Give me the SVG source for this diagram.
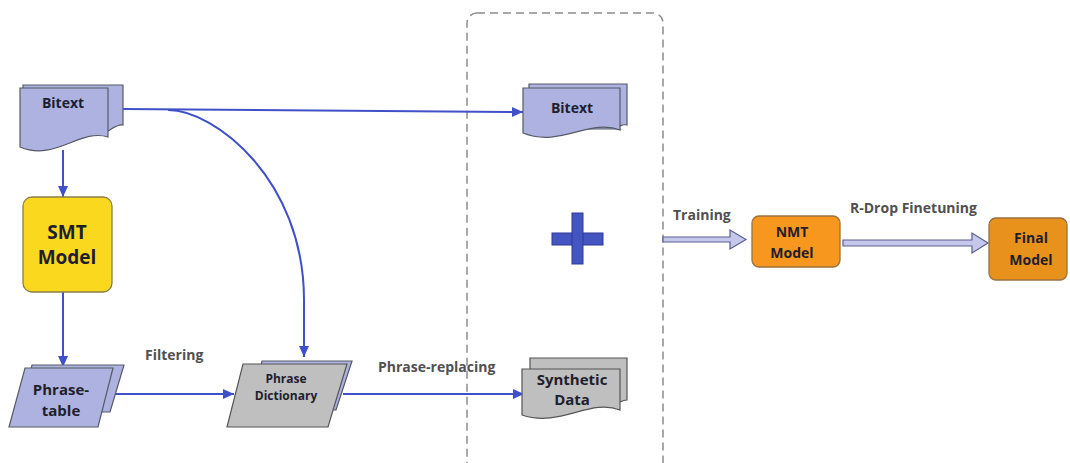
<svg xmlns="http://www.w3.org/2000/svg" width="1070" height="463" viewBox="0 0 1070 463">
<style>
.doc{fill:#AEB2E0;stroke:#555a66;stroke-width:1.2}
.gdoc{fill:#BFBFBF;stroke:#555;stroke-width:1.2}
.t{font-family:"Open Sans","Liberation Sans",sans-serif;font-weight:700;text-anchor:middle;fill:#1e1e2e}
.lbl{font-family:"Open Sans","Liberation Sans",sans-serif;font-weight:700;font-size:14px;fill:#505050}
.con{fill:none;stroke:#4050C8;stroke-width:2}
.blk{fill:#C5C8EA;stroke:#5a5f8f;stroke-width:1.2}
.plus{fill:#4454C0;stroke:#2d3a9a;stroke-width:1}
</style>
<defs>
<marker id="ah" markerUnits="userSpaceOnUse" markerWidth="12" markerHeight="12" viewBox="0 0 12 12" refX="11" refY="6" orient="auto">
<path d="M0,1 L11,6 L0,11 Z" fill="#4050C8"/>
</marker>
</defs>
<rect width="1070" height="463" fill="#fff"/>

<g id="container">
<rect x="467" y="13" width="196" height="460" rx="10" fill="none" stroke="#8c8c8c" stroke-width="1.5" stroke-dasharray="8,5"/>
</g>

<g id="connectors">
<path class="con" d="M123,109 L523,112" marker-end="url(#ah)"/>
<path class="con" d="M168,110 C215,110 304,180 304,300 L304,357" marker-end="url(#ah)"/>
<path class="con" d="M63,150 L63,197" marker-end="url(#ah)"/>
<path class="con" d="M63,292 L63,367" marker-end="url(#ah)"/>
<path class="con" d="M113,394 L234,394" marker-end="url(#ah)"/>
<path class="con" d="M343,394 L524,394" marker-end="url(#ah)"/>
<polygon class="blk" points="663,237 730,237 730,230 746,239.5 730,249 730,242 663,242"/>
<polygon class="blk" points="843,240 972,240 972,233 988,243 972,253 972,246 843,246"/>
</g>

<g id="labels">
<text class="lbl" x="145" y="360">Filtering</text>
<text class="lbl" x="378" y="372">Phrase-replacing</text>
<text class="lbl" x="673" y="220">Training</text>
<text class="lbl" x="850" y="213">R-Drop Finetuning</text>
</g>

<g id="bitext-src">
<path class="doc" d="M23,85 H123 V125 C118,124 113,128 108,131 H23 Z"/>
<path class="doc" d="M20,88 H108 V137 C80,128 55,162 20,147 Z"/>
<text class="t" x="63" y="108" font-size="14">Bitext</text>
</g>

<g id="smt">
<rect x="23" y="197" width="89" height="95" rx="9" fill="#FAD81E" stroke="#8B7D4A" stroke-width="1.3"/>
<text class="t" x="67" y="239" font-size="19">SMT</text>
<text class="t" x="67" y="264" font-size="19">Model</text>
</g>

<g id="phrase-table">
<path class="doc" d="M32,365 H124 L110,412 H20 Z"/>
<path class="doc" d="M25,368 H113 L98,427 H9 Z"/>
<text class="t" x="61" y="395" font-size="15">Phrase-</text>
<text class="t" x="61" y="416" font-size="15">table</text>
</g>

<g id="phrase-dict">
<path class="doc" d="M262,361 H352 L336,410 H250 Z"/>
<path class="gdoc" d="M243,364 H347 L328,427 H227 Z"/>
<text class="t" x="286" y="383" font-size="12">Phrase</text>
<text class="t" x="286" y="400" font-size="12">Dictionary</text>
</g>

<g id="bitext-dst">
<path class="doc" d="M529,84 H627 V125 C622,124 617,127 620,129 H529 Z"/>
<path class="doc" d="M523,88 H620 V130 C590,118 560,148 523,133 Z"/>
<text class="t" x="572" y="113" font-size="14">Bitext</text>
</g>

<g id="plus">
<rect class="plus" x="552" y="233" width="51" height="12"/>
<rect class="plus" x="572" y="213" width="11" height="51"/>
</g>

<g id="synthetic">
<path class="gdoc" d="M530,358 H627 V400 C624,400 622,401 620,402 H530 Z"/>
<path class="gdoc" d="M522,369 H620 V410 C590,398 560,428 522,415 Z"/>
<text class="t" x="572" y="385" font-size="15">Synthetic</text>
<text class="t" x="572" y="405" font-size="15">Data</text>
</g>

<g id="nmt">
<rect x="752" y="216" width="88" height="51" rx="7" fill="#F8971D" stroke="#9a7040" stroke-width="1.3"/>
<text class="t" x="792" y="237" font-size="14">NMT</text>
<text class="t" x="792" y="258" font-size="14">Model</text>
</g>

<g id="final">
<rect x="989" y="218" width="78" height="62" rx="7" fill="#E8921C" stroke="#9a7040" stroke-width="1.3"/>
<text class="t" x="1031" y="243" font-size="14">Final</text>
<text class="t" x="1031" y="265" font-size="14">Model</text>
</g>
</svg>
